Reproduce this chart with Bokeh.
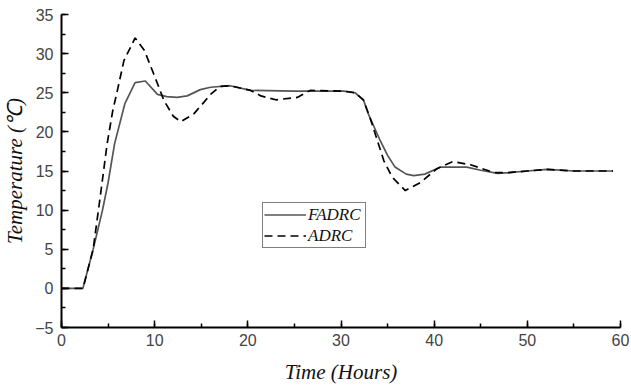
from bokeh.plotting import figure
from bokeh.models import Legend, LegendItem, Range1d, SingleIntervalTicker
from bokeh.embed import file_html
from bokeh.resources import INLINE

# ---- data ----
fadrc_t = [0, 2.3, 3.4, 4.4, 5.0, 5.7, 6.8, 7.9, 9.0, 10.3, 11.3, 12.4, 13.5, 14.9, 16.0,
           18.1, 20.3, 25.0, 30.3, 31.5, 32.4, 33.0, 34.2, 35.0, 35.8, 37.0, 37.8, 39.0,
           40.7, 43.5, 45.0, 46.8, 48.0, 50.0, 52.1, 55.0, 59.2]
fadrc_v = [0, 0, 5, 10, 13.5, 18.5, 23.6, 26.3, 26.5, 24.8, 24.5, 24.4, 24.6, 25.4, 25.7,
           25.9, 25.3, 25.2, 25.2, 25.0, 24.1, 22.1, 18.9, 17.0, 15.5, 14.6, 14.4, 14.6,
           15.5, 15.5, 15.1, 14.7, 14.8, 15.0, 15.2, 15.0, 15.0]

adrc_t = [0, 2.3, 3.4, 4.2, 4.9, 5.5, 6.0, 6.7, 7.9, 8.9, 9.9, 11.0, 12.0, 12.8, 14.2,
          15.3, 16.0, 17.0, 18.1, 20.3, 21.4, 23.0, 25.3, 26.7, 30.3, 31.5, 32.4, 33.2,
          34.6, 35.5, 36.9, 38.5, 40.3, 42.0, 43.9, 46.4, 48.0, 50.0, 52.1, 55.0, 59.2]
adrc_v = [0, 0, 5, 12.1, 18.5, 22.7, 25.3, 29.1, 32.0, 30.4, 27.4, 24.0, 22.0, 21.3, 22.3,
          23.8, 24.8, 25.8, 25.9, 25.3, 24.6, 24.1, 24.4, 25.3, 25.2, 25.0, 24.1, 21.5,
          16.3, 14.2, 12.5, 13.5, 15.3, 16.2, 15.8, 14.8, 14.8, 15.0, 15.2, 15.0, 15.0]

series_names = ["FADRC", "ADRC"]
x_label = "Time (Hours)"
y_label = "Temperature (\u2103)"

p = figure(width=631, height=388, output_backend="svg", toolbar_location=None,
           x_range=Range1d(0, 60), y_range=Range1d(-5, 35),
           min_border_left=61, min_border_right=11, min_border_top=14, min_border_bottom=61)
p.outline_line_color = None
p.grid.visible = False
p.background_fill_color = "white"

l1 = p.line(fadrc_t, fadrc_v, line_color="#555555", line_width=1.7)
l2 = p.line(adrc_t, adrc_v, line_color="black", line_width=1.7, line_dash="8 5")

for ax in (p.xaxis[0], p.yaxis[0]):
    ax.axis_line_width = 2
    ax.axis_line_color = "black"
    ax.major_tick_in = 7
    ax.major_tick_out = 0
    ax.minor_tick_in = 4
    ax.minor_tick_out = 0
    ax.major_tick_line_width = 1.5
    ax.minor_tick_line_width = 1.5
    ax.major_label_text_font = "Liberation Sans"
    ax.major_label_text_font_size = "16px"
    ax.major_label_text_color = "#444444"
    ax.axis_label_text_font = "Liberation Serif"
    ax.axis_label_text_font_style = "italic"
    ax.axis_label_text_font_size = "21px"
    ax.axis_label_text_color = "#111111"

p.xaxis.ticker = SingleIntervalTicker(interval=10, num_minor_ticks=2)
p.yaxis.ticker = SingleIntervalTicker(interval=5, num_minor_ticks=2)
p.yaxis.major_label_overrides = {-5: "\u22125"}
p.xaxis.axis_label = x_label
p.yaxis.axis_label = y_label
p.xaxis.major_label_standoff = 6
p.yaxis.major_label_standoff = 8
p.xaxis.axis_label_standoff = 11
p.yaxis.axis_label_standoff = 5

legend = Legend(items=[LegendItem(label=series_names[0], renderers=[l1]),
                       LegendItem(label=series_names[1], renderers=[l2])],
                location=(201, 79))
legend.border_line_color = "black"
legend.border_line_width = 1
legend.padding = 1
legend.margin = 0
legend.spacing = 0
legend.glyph_width = 42
legend.glyph_height = 21
legend.label_height = 21
legend.label_width = 56
legend.label_standoff = 2
legend.label_text_font = "Liberation Serif"
legend.label_text_font_style = "italic"
legend.label_text_font_size = "17px"
legend.label_text_color = "#111111"
legend.background_fill_alpha = 1
p.add_layout(legend, "center")

open("out.html", "w").write(file_html(p, INLINE))
